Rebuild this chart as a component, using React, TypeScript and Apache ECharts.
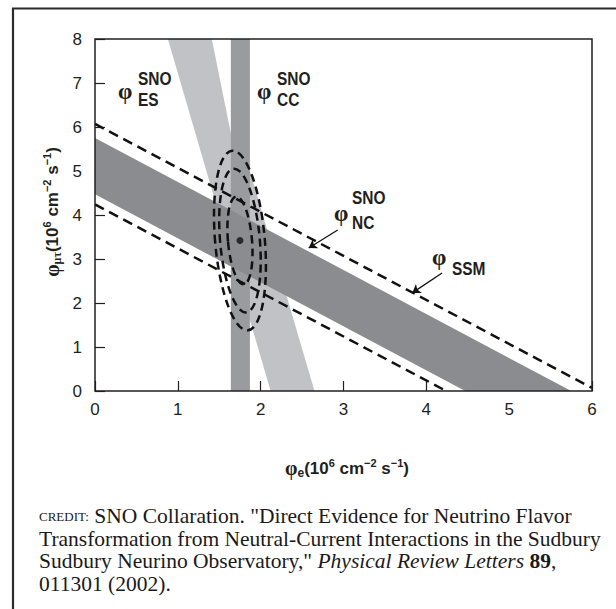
import React, { useEffect, useRef } from "react";
import * as echarts from "echarts";

// ---- data ----
const xTicks = [0, 1, 2, 3, 4, 5, 6];
const yTicks = [0, 1, 2, 3, 4, 5, 6, 7, 8];
// SNO CC band (phi_e range)
const ccBand = [1.64, 1.87];
// SNO NC band: phi_e + phi_mutau = const
const ncBand = [4.47, 5.75];
// SSM dashed lines: phi_e + phi_mutau = const
const ssmLines = [4.24, 6.07];
// SNO ES band outline (phi_e, phi_mutau)
const esLeftEdge = [
  [0.88, 8],
  [2.12, 0],
];
const esRightEdge = [
  [2.65, 0],
  [1.87, 5.0],
  [1.64, 5.86],
  [1.41, 8],
];
// best fit and confidence contours
const bestFit = [1.75, 3.42];
const contourRx = [0.145, 0.24, 0.3];
const contourRy = [1.0, 1.64, 2.05];
const contourTiltDeg = 5;
// annotation arrows [from, to]
const ncArrow = [
  [2.93, 3.66],
  [2.58, 3.25],
];
const ssmArrow = [
  [4.19, 2.68],
  [3.83, 2.23],
];

const SANS = '"Liberation Sans Narrow", "Liberation Sans", Arial, sans-serif';
const SERIF = '"Liberation Serif", "Times New Roman", serif';
const INK = "#231f20";
const NARROW_SCALE = 0.86;

function polySeries(name: string, poly: number[][], fill: string, z: number) {
  return {
    type: "custom",
    name,
    z,
    silent: true,
    data: [[0, 0]],
    renderItem: (_p: any, api: any) => ({
      type: "polygon",
      shape: { points: poly.map((pt) => api.coord(pt)) },
      style: { fill, stroke: null },
    }),
  };
}

function phi(x: number, y: number) {
  return {
    type: "text",
    x,
    y,
    style: { text: "φ", font: `bold 23px ${SERIF}`, fill: INK, verticalAlign: "middle" },
  };
}

function tag(text: string, x: number, y: number) {
  return {
    type: "text",
    x,
    y,
    scaleX: NARROW_SCALE,
    style: { text, font: `bold 18px ${SANS}`, fill: INK, verticalAlign: "middle" },
  };
}

export default function App() {
  const ref = useRef<HTMLDivElement>(null);

  useEffect(() => {
    if (!ref.current) return;
    const chart = echarts.init(ref.current, null, { renderer: "svg" });

    const esPoly = [...esLeftEdge, ...esRightEdge];
    const ccPoly = [
      [ccBand[0], 0],
      [ccBand[1], 0],
      [ccBand[1], 8],
      [ccBand[0], 8],
    ];
    const ncPoly = [
      [0, ncBand[1]],
      [0, ncBand[0]],
      [ncBand[0], 0],
      [ncBand[1], 0],
    ];
    const ssmData = ssmLines.map((c) => {
      const xEnd = Math.min(c, 6);
      return [
        [0, c],
        [xEnd, c - xEnd],
      ];
    });

    const titleRich = (subFont: string) => ({
      p: { font: `bold 20px ${SERIF}`, fill: INK, lineHeight: 22 },
      b: { font: `bold 17px ${SANS}`, fill: INK, lineHeight: 22 },
      sup: { font: `bold 11px ${SANS}`, fill: INK, lineHeight: 22, verticalAlign: "top" },
      sub: { font: subFont, fill: INK, lineHeight: 22, verticalAlign: "bottom" },
    });

    const option: any = {
      animation: false,
      backgroundColor: "#ffffff",
      grid: { left: 95, top: 39, width: 497, height: 352, containLabel: false },
      xAxis: {
        type: "value",
        min: 0,
        max: 6,
        interval: 1,
        axisLine: { show: false },
        axisTick: { show: true, inside: true, length: 10, lineStyle: { color: INK, width: 1.2 } },
        axisLabel: {
          fontSize: 17,
          fontFamily: SANS,
          color: INK,
          margin: 10,
          formatter: (v: number) => (xTicks.includes(v) ? String(v) : ""),
        },
        splitLine: { show: false },
      },
      yAxis: {
        type: "value",
        min: 0,
        max: 8,
        interval: 1,
        axisLine: { show: false },
        axisTick: { show: true, inside: true, length: 10, lineStyle: { color: INK, width: 1.2 } },
        axisLabel: {
          fontSize: 17,
          fontFamily: SANS,
          color: INK,
          margin: 13,
          formatter: (v: number) => (yTicks.includes(v) ? String(v) : ""),
        },
        splitLine: { show: false },
      },
      series: [
        polySeries("ES", esPoly, "#c1c2c6", 2),
        polySeries("CC", ccPoly, "#9a9b9e", 3),
        polySeries("NC", ncPoly, "#8b8c8f", 4),
        ...ssmData.map((d, i) => ({
          type: "line",
          name: "SSM" + i,
          z: 5,
          data: d,
          symbol: "none",
          silent: true,
          lineStyle: { color: "#111", width: 2.5, type: [10, 6] },
        })),
        {
          type: "custom",
          name: "contours",
          z: 6,
          silent: true,
          data: contourRx.map((rx, i) => [bestFit[0], bestFit[1], rx, contourRy[i], contourTiltDeg]),
          renderItem: (_p: any, api: any) => {
            const c = api.coord([api.value(0), api.value(1)]);
            const s = api.size([api.value(2), api.value(3)]);
            return {
              type: "ellipse",
              x: c[0],
              y: c[1],
              rotation: (api.value(4) * Math.PI) / 180,
              shape: { cx: 0, cy: 0, rx: s[0], ry: s[1] },
              style: { fill: "none", stroke: "#111", lineWidth: 2.5, lineDash: [8, 5] },
            };
          },
        },
        {
          type: "scatter",
          name: "best fit",
          z: 7,
          silent: true,
          data: [bestFit],
          symbolSize: 7,
          itemStyle: { color: "#111" },
        },
        {
          type: "lines",
          coordinateSystem: "cartesian2d",
          z: 8,
          silent: true,
          symbol: ["none", "arrow"],
          symbolSize: 8,
          lineStyle: { color: "#111", width: 1.3, opacity: 1 },
          data: [{ coords: ncArrow }, { coords: ssmArrow }],
        },
      ],
      graphic: [
        {
          type: "polyline",
          z: 100,
          shape: {
            points: [
              [13, 609],
              [13, 8.5],
              [616, 8.5],
            ],
          },
          style: { stroke: "#2b2b2b", lineWidth: 2.2, fill: "none" },
        },
        {
          type: "rect",
          z: 100,
          shape: { x: 95, y: 39, width: 497, height: 352 },
          style: { fill: "none", stroke: INK, lineWidth: 1.5 },
        },
        phi(118, 91),
        tag("SNO", 138, 79),
        tag("ES", 138, 100),
        phi(257, 91),
        tag("SNO", 277, 79),
        tag("CC", 277, 100),
        phi(334, 213),
        tag("SNO", 352, 198),
        tag("NC", 352, 223),
        phi(432, 257),
        tag("SSM", 452, 269),
        // x axis title
        {
          type: "text",
          x: 347,
          y: 468,
          style: {
            text: "{p|φ}{sub|e}{b|(10}{sup|6}{b| cm}{sup|−2}{b| s}{sup|−1}{b|)}",
            align: "center",
            verticalAlign: "middle",
            rich: titleRich(`bold 12px ${SANS}`),
          },
        },
        // y axis title
        {
          type: "text",
          x: 52,
          y: 212,
          rotation: Math.PI / 2,
          style: {
            text: "{p|φ}{sub|μτ}{b|(10}{sup|6}{b| cm}{sup|−2}{b| s}{sup|−1}{b|)}",
            align: "center",
            verticalAlign: "middle",
            rich: titleRich(`bold 12px ${SERIF}`),
          },
        },
        // credit
        {
          type: "text",
          x: 39,
          y: 505,
          style: {
            text:
              '{sc|CREDIT:}{r| SNO Collaration. "Direct Evidence for Neutrino Flavor}\n' +
              "{r|Transformation from Neutral-Current Interactions in the Sudbury}\n" +
              '{r|Sudbury Neurino Observatory," }{i|Physical Review Letters}{bd| 89}{r|,}\n' +
              "{r|011301 (2002).}",
            verticalAlign: "top",
            rich: {
              r: { font: `21.5px ${SERIF}`, fill: "#1a1a1a", lineHeight: 22.5 },
              i: { font: `italic 21.5px ${SERIF}`, fill: "#1a1a1a", lineHeight: 22.5 },
              bd: { font: `bold 21.5px ${SERIF}`, fill: "#1a1a1a", lineHeight: 22.5 },
              sc: { font: `13px ${SERIF}`, fill: "#1a1a1a", lineHeight: 22.5 },
            },
          },
        },
      ],
    };

    chart.setOption(option);
    return () => chart.dispose();
  }, []);

  return (
    <div
      ref={ref}
      style={{ position: "fixed", left: 0, top: 0, width: 616, height: 609, background: "#fff" }}
    />
  );
}
